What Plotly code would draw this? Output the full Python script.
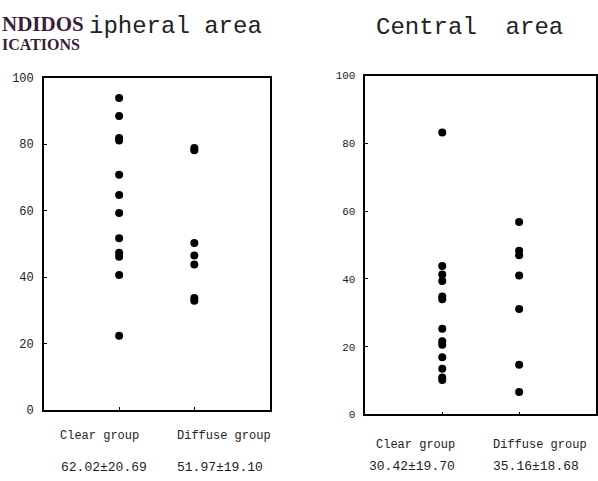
import plotly.graph_objects as go

# ---- data ----
groups = ["Clear group", "Diffuse group"]
peripheral_clear = [93.9, 88.5, 81.9, 81.1, 70.8, 64.7, 59.3, 51.7, 47.3, 46.1, 40.6, 22.3]
peripheral_diffuse = [78.9, 78.2, 50.3, 46.5, 43.8, 33.7, 32.9]
central_clear = [83.2, 43.8, 41.3, 39.4, 34.8, 34.0, 25.3, 21.6, 20.6, 16.9, 13.5, 10.9, 10.2]
central_diffuse = [56.8, 48.3, 47.0, 41.0, 31.1, 14.7, 6.6]
peripheral_stats = ["62.02±20.69", "51.97±19.10"]
central_stats = ["30.42±19.70", "35.16±18.68"]
y_ticks = [0, 20, 40, 60, 80, 100]

W, H = 598, 481
def px(x):
    return x / W
def py(y):
    return 1 - y / H

MONO = "Courier New, Liberation Mono, monospace"

fig = go.Figure()
mk = dict(color="black", size=8, symbol="circle")
fig.add_trace(go.Scatter(x=[1]*len(peripheral_clear), y=peripheral_clear, mode="markers", marker=mk, xaxis="x", yaxis="y", showlegend=False))
fig.add_trace(go.Scatter(x=[2]*len(peripheral_diffuse), y=peripheral_diffuse, mode="markers", marker=mk, xaxis="x", yaxis="y", showlegend=False))
fig.add_trace(go.Scatter(x=[1]*len(central_clear), y=central_clear, mode="markers", marker=mk, xaxis="x2", yaxis="y2", showlegend=False))
fig.add_trace(go.Scatter(x=[2]*len(central_diffuse), y=central_diffuse, mode="markers", marker=mk, xaxis="x2", yaxis="y2", showlegend=False))

xax = dict(range=[0, 3], showgrid=False, zeroline=False, showline=True, linecolor="black",
           linewidth=1.5, mirror=True, tickvals=[1, 2], ticktext=["", ""], ticks="inside",
           ticklen=3, tickcolor="black")
yax = dict(range=[0, 100], showgrid=False, zeroline=False, showline=True, linecolor="black",
           linewidth=1.5, mirror=True, tickvals=y_ticks, ticks="inside", ticklen=3,
           tickcolor="black", ticklabelstandoff=6)

fig.update_layout(
    width=W, height=H, margin=dict(l=0, r=0, t=0, b=0),
    paper_bgcolor="white", plot_bgcolor="white",
    xaxis=dict(xax, domain=[px(44), px(270)], anchor="y"),
    yaxis=dict(yax, domain=[py(416), py(74)], anchor="x",
               tickfont=dict(family=MONO, size=12, color="#222")),
    xaxis2=dict(xax, domain=[px(366), px(597)], anchor="y2"),
    yaxis2=dict(yax, domain=[py(420.7), py(71.7)], anchor="x2",
                tickfont=dict(family=MONO, size=11, color="#222")),
)

ann = []
# titles
ann.append(dict(text="ipheral area", x=px(87), y=py(21), xref="paper", yref="paper",
                xanchor="left", yanchor="middle", showarrow=False,
                font=dict(family=MONO, size=24, color="#222")))
ann.append(dict(text="Central  area", x=px(375), y=py(22), xref="paper", yref="paper",
                xanchor="left", yanchor="middle", showarrow=False,
                font=dict(family=MONO, size=24, color="#222")))
# logo fragment (two stacked lines in one block)
ann.append(dict(text="<b><span style='font-size:21px'>NDIDOS</span></b><br>"
                     "<b><span style='font-size:16px'>ICATIONS</span></b>",
                x=0, y=py(27), xref="paper", yref="paper", align="left",
                xanchor="left", yanchor="middle", showarrow=False,
                font=dict(family="Liberation Serif, serif", size=14.6, color="#3b1c3b")))

# category labels and stats
cat_pos = [(58, 443, groups[0]), (175, 443, groups[1]), (375, 452, groups[0]), (492, 452, groups[1])]
for x, y, t in cat_pos:
    ann.append(dict(text=t, x=px(x), y=py(y), xref="paper", yref="paper", xanchor="left",
                    yanchor="middle", showarrow=False, font=dict(family=MONO, size=12, color="#222")))
stat_pos = [(59, 475, peripheral_stats[0]), (175, 475, peripheral_stats[1]),
            (368, 474, central_stats[0]), (492, 474, central_stats[1])]
for x, y, t in stat_pos:
    ann.append(dict(text=t, x=px(x), y=py(y), xref="paper", yref="paper", xanchor="left",
                    yanchor="middle", showarrow=False, font=dict(family=MONO, size=13, color="#222")))

fig.update_layout(annotations=ann)
fig.write_html("out.html")
